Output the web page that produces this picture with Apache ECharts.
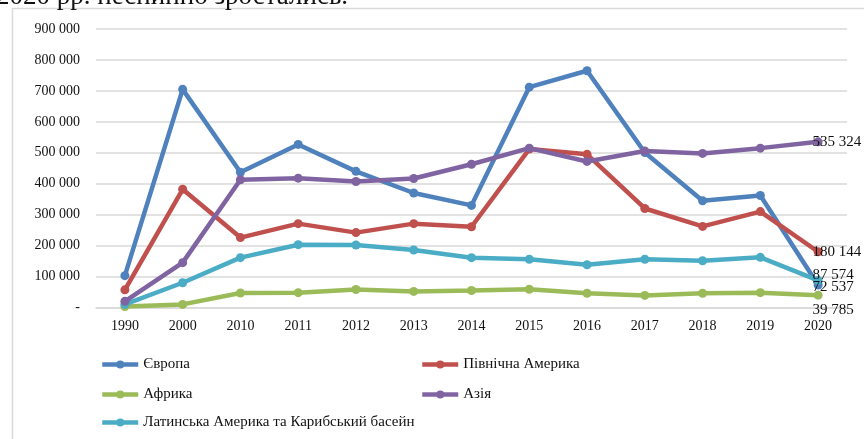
<!DOCTYPE html>
<html><head><meta charset="utf-8">
<script src="https://cdn.jsdelivr.net/npm/echarts@6/dist/echarts.min.js"></script>
<style>html,body{margin:0;padding:0;background:#fff}#c{width:864px;height:439px}</style>
</head><body><div id="c"></div>
<script>
const categories = ['1990','2000','2010','2011','2012','2013','2014','2015','2016','2017','2018','2019','2020'];
const yTicks = [0,100000,200000,300000,400000,500000,600000,700000,800000,900000];
const europe   = [103000,705000,437000,527000,440000,370000,330000,712000,765000,501000,345000,362000,72537];
const northAm  = [57000,382000,226000,271000,242000,271000,261000,512000,495000,320000,262000,310000,180144];
const africa   = [3000,10000,47000,48000,58000,52000,55000,59000,46000,39000,46000,48000,39785];
const asia     = [20000,145000,413000,418000,407000,417000,463000,515000,472000,506000,498000,515000,535324];
const latAm    = [10000,80000,161000,203000,202000,186000,161000,156000,138000,156000,151000,162000,87574];
const names = ['Європа','Північна Америка','Африка','Азія','Латинська Америка та Карибський басейн'];
const colors = ['#4F81BD','#C0504D','#9BBB59','#8064A2','#4BACC6'];
const seriesData = [europe, northAm, africa, asia, latAm];
const labelOffsets = [[-15,2],[-15,0],[-15,15],[-15,0],[-15,-5]];

function fmt(v){ if(v===0) return '-'; return String(v).replace(/\B(?=(\d{3})+(?!\d))/g,' '); }
const serif = 'Liberation Serif, Times New Roman, serif';

const series = seriesData.map((arr, si) => ({
  name: names[si], type: 'line', symbol: 'circle', symbolSize: 9,
  lineStyle: {width: 4.5, color: colors[si]}, itemStyle: {color: colors[si]},
  z: si===3 ? 3 : 2,
  data: arr.map((v, i) => i === arr.length - 1 ? {
    value: v,
    label: {show: true, position: 'right', offset: labelOffsets[si], formatter: p => fmt(p.value),
      fontFamily: serif, fontSize: 15, color: '#111'}
  } : v)
}));

const legendPos = [[95,352],[415,352],[95,382],[415,382],[95,410]];
const legends = names.map((n, i) => ({
  data: [n], left: legendPos[i][0], top: legendPos[i][1], itemWidth: 36, itemHeight: 10, itemGap: 4,
  lineStyle: {width: 4.5}, itemStyle: {},
  textStyle: {fontFamily: serif, fontSize: 15, color: '#111'}
}));

const chart = echarts.init(document.getElementById('c'), null, {renderer: 'canvas'});
chart.setOption({
  animation: false,
  color: colors,
  graphic: [
    {type: 'rect', shape: {x: 12.5, y: 8.5, width: 900, height: 500}, style: {fill: 'none', stroke: '#d9d9d9', lineWidth: 1.5}, z: -10},
    {type: 'text', left: -4, top: -17, style: {text: '2020 рр. неспинно зростались.', font: '27px "Liberation Serif"', fill: '#111'}}
  ],
  grid: {left: 96, right: 17, top: 29, bottom: 131.5},
  legend: legends,
  xAxis: {type: 'category', data: categories, boundaryGap: true,
    axisLine: {lineStyle: {color: '#d9d9d9', width: 1.5}}, axisTick: {show: false},
    axisLabel: {fontFamily: serif, fontSize: 14, color: '#111', margin: 12}},
  yAxis: {type: 'value', min: yTicks[0], max: yTicks[yTicks.length-1], interval: 100000,
    axisLine: {show: false}, axisTick: {show: false},
    splitLine: {lineStyle: {color: '#d9d9d9', width: 1.5}},
    axisLabel: {fontFamily: serif, fontSize: 14, color: '#111', margin: 16, formatter: fmt}},
  series: series
});
</script></body></html>
